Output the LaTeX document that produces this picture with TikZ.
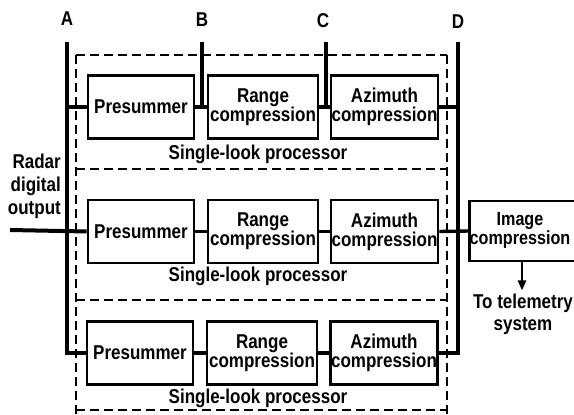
\documentclass[tikz,border=0pt]{standalone}
\usepackage{fontspec}
\setmainfont{Liberation Sans}[FakeStretch=0.85]
\usetikzlibrary{arrows.meta}
\begin{document}
\begin{tikzpicture}[x=1pt,y=-1pt,
  txt/.style={font=\bfseries\fontsize{20}{19}\selectfont, inner sep=0pt, align=center},
  blk/.style={txt, draw, line width=2.6pt, minimum height=63pt},
  bus/.style={line width=4pt},
  conn/.style={line width=3.4pt},
  dsh/.style={line width=2.2pt, dash pattern=on 9pt off 5pt},
  lbl/.style={txt}]
\useasboundingbox (0,0) rectangle (574,415);
\clip (0,0) rectangle (574,415);
% dashed processor frames
\draw[dsh] (76,55) -- (447,55);
\draw[dsh] (76,169) -- (447,169);
\draw[dsh] (76,300) -- (447,300);
\draw[dsh] (76,410) -- (447,410);
\draw[dsh] (76,55) -- (76,415);
\draw[dsh] (447,55) -- (447,415);
% blocks
\node[blk, minimum width=106pt] (p1) at (141,107) {Presummer};
\node[blk, minimum width=110pt] (r1) at (263,107) {Range\\compression};
\node[blk, minimum width=107pt] (a1) at (384.5,107) {Azimuth\\compression};
\node[blk, minimum width=106pt] (p2) at (141,231.5) {Presummer};
\node[blk, minimum width=110pt] (r2) at (263,231.5) {Range\\compression};
\node[blk, minimum width=107pt] (a2) at (384.5,231.5) {Azimuth\\compression};
\node[blk, minimum width=106pt] (p3) at (140,353) {Presummer};
\node[blk, minimum width=110pt] (r3) at (262,353) {Range\\compression};
\node[blk, minimum width=107pt] (a3) at (384,353) {Azimuth\\compression};
\node[blk, minimum width=120pt, minimum height=60pt] (img) at (532,231)
  {\fontsize{19}{19}\selectfont\begin{tabular}{@{}c@{}}Image\\compression\end{tabular}\hspace{24pt}};
% labels
\node[lbl] (sl1) at (258,154) {Single-look processor};
\node[lbl] (sl2) at (258,276) {Single-look processor};
\node[lbl] (sl3) at (258,398) {Single-look processor};
\node[lbl, align=right, anchor=east] (rad) at (61,186) {Radar\\[4pt]digital\\[4pt]output};
\node[lbl, inner sep=3pt] (tel) at (523,314) {To telemetry\\[3pt]system};
\node[lbl] (lA) at (67,19) {A};
\node[lbl] (lB) at (202,20) {B};
\node[lbl] (lC) at (323,21) {C};
\node[lbl] (lD) at (458,22) {D};
% bus coordinates
\coordinate (At) at (67,42);
\coordinate (Bt) at (202,42);
\coordinate (Ct) at (326,42);
\coordinate (Dt) at (458,42);
\coordinate (in) at (10,230);
\coordinate (out) at (522,261);
% buses
\draw[bus] (At) -- (At |- p3.west) -- (p3.west);
\draw[conn] (At |- p1.west) -- (p1.west);
\draw[bus] (in) -- (p2.west);
\draw[bus] (Bt) -- (Bt |- p1.east);
\draw[bus] (Ct) -- (Ct |- r1.east);
\draw[bus] (Dt) -- (Dt |- a3.east) -- (a3.east);
\draw[conn] (a1.east) -- (Dt |- a1.east);
\draw[conn] (a2.east) -- (img.west);
% chain connectors
\draw[conn] (p1.east) -- (r1.west);
\draw[conn] (r1.east) -- (a1.west);
\draw[conn] (p2.east) -- (r2.west);
\draw[conn] (r2.east) -- (a2.west);
\draw[conn] (p3.east) -- (r3.west);
\draw[conn] (r3.east) -- (a3.west);
% output arrow
\draw[line width=2.6pt, -{Triangle[length=10pt,width=8pt]}] (out) -- (tel.north -| out);
\end{tikzpicture}
\end{document}
